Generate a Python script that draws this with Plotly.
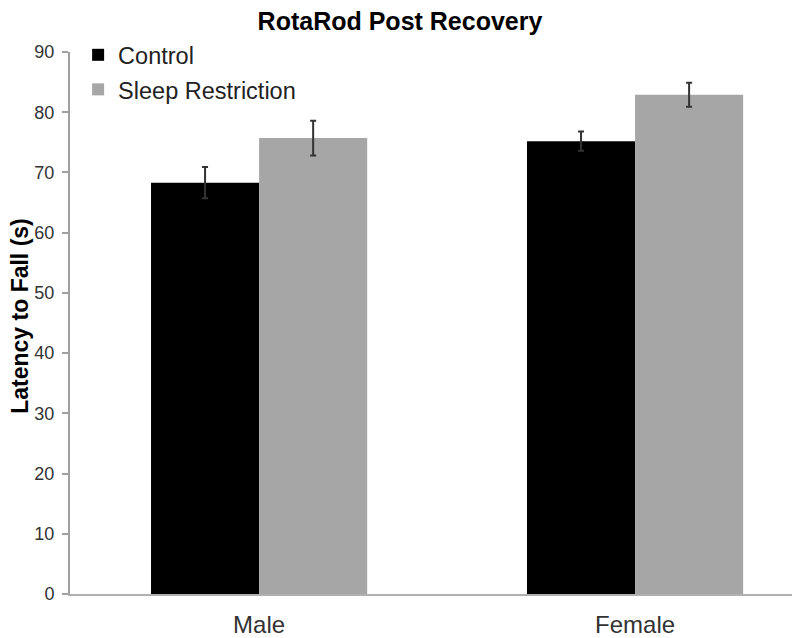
import plotly.graph_objects as go

categories = ["Male", "Female"]
control = [68.3, 75.2]
control_err = [2.6, 1.6]
sleep_restriction = [75.7, 82.9]
sleep_restriction_err = [2.9, 2.0]
y_ticks = [0, 10, 20, 30, 40, 50, 60, 70, 80, 90]

font = "Liberation Sans, Arial, sans-serif"
fig = go.Figure()
fig.add_trace(go.Bar(
    x=categories, y=control, name="Control", marker_color="#000000",
    marker_line_width=0, legendgroup="c",
    error_y=dict(type="data", array=control_err, color="#333333", thickness=2, width=3),
))
fig.add_trace(go.Bar(
    x=categories, y=sleep_restriction, name="Sleep Restriction", marker_color="#a6a6a6",
    marker_line_width=0, legendgroup="s",
    error_y=dict(type="data", array=sleep_restriction_err, color="#333333", thickness=2, width=3),
))
fig.update_layout(
    width=800, height=638,
    margin=dict(l=62, r=0, t=44, b=52),
    paper_bgcolor="white", plot_bgcolor="white",
    barmode="group", bargap=0.425, bargroupgap=0,
    title=dict(text="<b>RotaRod Post Recovery</b>", x=0.49, xanchor="center", y=0.98, yanchor="middle",
               font=dict(family=font, size=25, color="#000000")),
    font=dict(family=font, color="#333333"),
    xaxis=dict(range=[-0.503, 1.46], showline=True, linecolor="#b0b0b0", linewidth=2,
               ticks="", tickfont=dict(size=24, color="#333333"), showgrid=False, automargin=False,
               ticklabelstandoff=8),
    yaxis=dict(range=[0, 90], tickvals=y_ticks, showline=True, linecolor="#a0a0a0", linewidth=2,
               ticks="outside", ticklen=6, tickcolor="#a0a0a0", tickwidth=1.5,
               tickfont=dict(size=18, color="#333333"), showgrid=False, zeroline=False, automargin=False,
               ticklabelstandoff=4),
    legend=dict(x=0.011, y=1.035, xanchor="left", yanchor="top", bgcolor="rgba(0,0,0,0)",
                font=dict(size=23.5, color="#222222"), itemwidth=30, tracegroupgap=1),
    annotations=[dict(text="<b>Latency to Fall (s)</b>", textangle=-90, xref="paper", yref="paper",
                      x=-0.068, y=0.513, xanchor="center", yanchor="middle", showarrow=False,
                      font=dict(family=font, size=23, color="#000000"))],
)
fig.write_html("out.html")
